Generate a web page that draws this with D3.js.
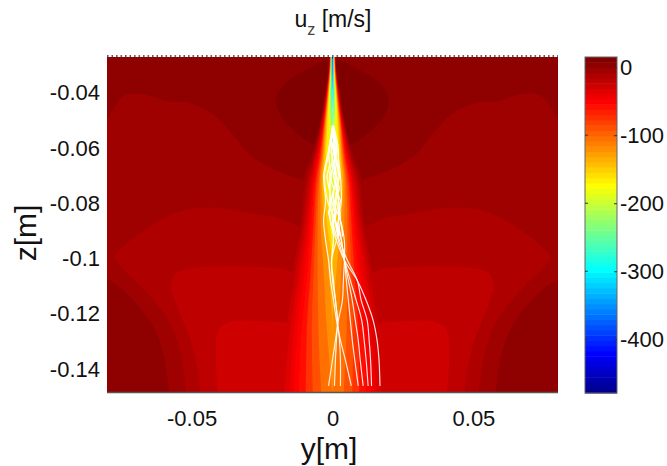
<!DOCTYPE html>
<html>

<head>
    <title>u_z contour</title>
    <script src="https://d3js.org/d3.v7.min.js"></script>
    <style>
        body {
            margin: 0;
            background-color: white;
        }

        svg {
            display: block;
        }

        text {
            font-family: "Liberation Sans", sans-serif;
            fill: #111;
        }
    </style>
</head>

<body>
    <svg></svg>
    <script>
        // all lengths in mm, velocities in m/s
        const yTicks = [-0.05, 0, 0.05];
        const zTicks = [-0.04, -0.06, -0.08, -0.1, -0.12, -0.14];
        const colorTicks = [0, -100, -200, -300, -400];

        // background contour bands, right half only [y, z], picture is mirrored about y=0
        const baseValue = 3;
        const blobValue = 12;
        const blobEdge = [[0, -27.7], [8.8, -31.3], [15.8, -35.7], [20, -42.2], [17.9, -49], [12.3, -54.8], [8.1, -58], [0, -60.9]];
        const bandAValue = -5;
        const bandAEdge = [[0, -73.9], [10.9, -71.4], [21.4, -67.4], [29.8, -62], [35.5, -54.8], [42.5, -47.6], [50.9, -43.6], [59, -42.9], [67, -40.4], [74, -41.1], [79.6, -49], [85, -57.3], [90, -160]];
        const bandBValue = -12;
        const bandBEdge = [[0, -90.5], [11.6, -88.4], [19.3, -85.1], [23.9, -84.4], [30.9, -83], [44.9, -81.5], [56.5, -83.7], [67, -89.8], [73, -94.5], [77.2, -99.2], [75.5, -102.5], [68.4, -109.7], [61.4, -117.6], [56.5, -125.9], [53.7, -135.7], [51.9, -148.3], [51, -155]];
        const bandCValue = -20;
        const bandCEdge = [[0, -106.1], [13.3, -105], [18.6, -103.5], [23.9, -103.2], [35.5, -102.8], [49.5, -103.5], [55.5, -105.3], [57.2, -109.7], [55.5, -116.2], [52.7, -123.4], [49.5, -132.1], [46.7, -148.3], [46, -155]];
        const bandDValue = -28;
        const bandDEdge = [[0, -124.1], [17.9, -123], [23.9, -122.7], [35.5, -122.7], [39.7, -124.8], [41.1, -128.4], [41.4, -135.7], [40.7, -148.3], [40.5, -155]];
        const cornerValue = 3;
        const cornerEdge = [[86, -104], [79.7, -107.5], [73, -112.6], [67, -119.4], [62.5, -127], [59.7, -135.7], [57.9, -148.3], [57, -156], [90, -156]];

        // central jet: half width of each velocity level at each height
        const jetZ = [-27, -32.1, -39.3, -46.5, -53.7, -62.7, -71.8, -86.2, -104.3, -125.9, -148.3];
        const jetLevels = [-5, -12, -20, -28, -35, -43, -50, -58, -77, -92, -108, -123, -139, -154, -170, -190, -220, -250, -290, -340, -400, -450];
        const jetHalfWidth = [
            [1.05, 1.4, 2.46, 3.5, 4.9, 7.4, 10.5, 11.6, 12.6, 13.3, 14],
            [0.98, 1.33, 2.28, 3.33, 4.56, 6.67, 9.48, 11.2, 13.3, 14, 14.7],
            [0.95, 1.26, 2.18, 3.16, 4.39, 6.32, 8.78, 10.5, 14, 15.4, 16.1],
            [0.91, 1.23, 2.11, 3.05, 4.21, 5.97, 8.07, 9.83, 13, 16.5, 18.6],
            [0.88, 1.19, 2.04, 2.95, 4.04, 5.62, 7.37, 9.13, 11.9, 15.1, 17.2],
            [0.84, 1.16, 1.97, 2.84, 3.86, 5.27, 7.02, 8.42, 10.9, 13.7, 15.4],
            [0.81, 1.12, 1.9, 2.74, 3.69, 5.02, 6.67, 8.07, 9.83, 12.3, 13.7],
            [0.77, 1.09, 1.83, 2.63, 3.51, 4.74, 6.32, 7.37, 8.78, 10.9, 11.9],
            [0.74, 1.05, 1.76, 2.53, 3.33, 4.39, 5.79, 6.67, 7.72, 9.13, 9.48],
            [0.7, 0.98, 1.65, 2.39, 3.16, 4.04, 5.27, 5.97, 6.67, 7.37, 7.02],
            [0.67, 0.91, 1.54, 2.25, 2.98, 3.69, 4.74, 5.27, 5.27, 5, 4],
            [0.63, 0.84, 1.44, 2.11, 2.81, 3.4, 4.3, 4.21, 3.16, 2, 0],
            [0.6, 0.77, 1.33, 1.97, 2.5, 3.1, 3.8, 3.1, 1.4, 0, 0],
            [0.56, 0.7, 1.23, 1.76, 2.25, 2.8, 3.2, 2.1, 0, 0, 0],
            [0.53, 0.63, 1.12, 1.58, 1.9, 2.3, 2.6, 1, 0, 0, 0],
            [0.49, 0.56, 0.98, 1.33, 1.2, 1.2, 0.9, 0, 0, 0, 0],
            [0.42, 0.49, 0.81, 0.88, 0.3, 0, 0, 0, 0, 0, 0],
            [0.39, 0.42, 0.6, 0.35, 0, 0, 0, 0, 0, 0, 0],
            [0.32, 0.35, 0.35, 0, 0, 0, 0, 0, 0, 0, 0],
            [0.25, 0.25, 0.11, 0, 0, 0, 0, 0, 0, 0, 0],
            [0.18, 0.14, 0, 0, 0, 0, 0, 0, 0, 0, 0],
            [0.11, 0, 0, 0, 0, 0, 0, 0, 0, 0, 0]
        ];

        // droplet paths, y read at each trajZ
        const coreZ = [-27.5, -38, -46, -52];
        const coreY = [0, 0, 0.1, 0.3];
        const trajZ = [-51.9, -60.9, -70, -79, -86.2, -93.4, -100.6, -107.9, -115.1, -122.3, -129.5, -136.7, -146.1];
        const trajY = [
            [0.35, 1.4, -0.35, -1.05, -0.7, 1.4, 4.21, 8.78, 11.93, 14.39, 15.8, 16.5, 16.85],
            [0, -1.05, -2.81, -1.76, 0.7, 2.46, 5.27, 8.78, 10.18, 12.29, 12.99, 13.5, 13.86],
            [0.35, 1.05, 2.11, 1.05, 1.05, 2.11, 4.21, 6.32, 8.42, 10.35, 11.23, 11.93, 12.64],
            [0, -0.35, 0.35, 2.11, 1.05, 3.16, 4.21, 5.62, 7.02, 8.07, 9.13, 9.83, 10.88],
            [0.35, 1.76, 2.81, 3.16, 2.11, 3.16, 4.21, 4.91, 5.62, 6.32, 7.02, 7.9, 9.13],
            [0, -1.4, -3.16, -2.46, -3.16, -2.46, -1.4, -0.7, 0.35, 1.4, 2.81, 4.56, 6.67],
            [0.35, 0.35, -1.05, -0.7, 0, 0.35, -0.35, 0, 1.05, 1.76, 2.46, 2.81, 2.81],
            [0, 0.7, 1.05, 2.11, 2.81, 1.4, -0.35, 0.35, 1.05, 1.76, 1.4, 1.05, 0.7],
            [0.35, 2.11, 1.4, 0.35, 2.81, 4.21, 4.21, 3.86, 3.51, 2.11, 1.05, 0, -1.4]
        ];
        // the tangled part of the bundle just below the nozzle
        const bundleZ = [-53, -57.3, -61.7, -66, -70.3, -74.7, -79, -83.3, -87.7, -92];
        const bundleY = [
            [0, 0.4, -0.5, 0.6, -1, 0.5, -0.4, 1, 0.2, 1.4],
            [0.3, -0.4, 0.7, 1.4, 0.4, 1.6, 0.8, 0, 1.5, 2.2],
            [-0.3, 0.5, 1.2, 0.2, 1.5, 2.4, 1.2, 2.6, 1.8, 3],
            [0.2, -0.8, -1.5, -1, -2, -1.2, -0.3, -1.4, -0.5, 0.5],
            [0, 1, 0.3, 2, 2.6, 1.2, 2.8, 2, 3.2, 3.6]
        ];

        const width = 667, height = 466;
        const plot = { left: 107, right: 558, top: 57, bottom: 392 };
        const bar = { left: 585, right: 617, top: 57, bottom: 393 };

        const svg = d3.select("svg")
            .attr("width", width)
            .attr("height", height);

        const xScale = d3.scaleLinear().domain([-0.08, 0.08]).range([plot.left, plot.right]);
        const zScale = d3.scaleLinear().domain([-0.027, -0.1483]).range([plot.top, plot.bottom]);
        const barScale = d3.scaleLinear().domain([15, -479]).range([bar.top, bar.bottom]);

        // matlab jet(64)
        function jetColor(i) {
            const x = (i + 1) / 64;
            const c = v => Math.round(255 * Math.max(0, Math.min(1, v)));
            return d3.rgb(c(Math.min(4 * x - 1.5, -4 * x + 4.5)), c(Math.min(4 * x - 0.5, -4 * x + 3.5)), c(Math.min(4 * x + 0.5, -4 * x + 2.5))).formatHex();
        }
        const color = d3.scaleQuantize().domain([-479, 15]).range(d3.range(64).map(jetColor));

        svg.append("defs").append("clipPath").attr("id", "plotClip")
            .append("rect")
            .attr("x", plot.left).attr("y", plot.top)
            .attr("width", plot.right - plot.left).attr("height", plot.bottom - plot.top);
        svg.select("defs").append("filter").attr("id", "soft")
            .attr("x", 0).attr("y", 0).attr("width", 1).attr("height", 1)
            .append("feGaussianBlur").attr("stdDeviation", 0.45);

        const field = svg.append("g").attr("clip-path", "url(#plotClip)");
        const inner = field.append("g").attr("filter", "url(#soft)");

        inner.append("rect")
            .attr("x", plot.left - 5).attr("y", plot.top - 5)
            .attr("width", plot.right - plot.left + 10).attr("height", plot.bottom - plot.top + 10)
            .attr("fill", color(baseValue));

        const edgeLine = d3.line()
            .x(d => xScale(d[0] / 1000))
            .y(d => zScale(d[1] / 1000))
            .curve(d3.curveCatmullRom);

        function mirrored(edge) {
            const left = edge.slice(1).reverse().map(d => [-d[0], d[1]]);
            return left.concat(edge);
        }

        const bands = [
            [blobValue, mirrored(blobEdge)],
            [bandAValue, mirrored(bandAEdge)],
            [cornerValue, cornerEdge],
            [cornerValue, cornerEdge.map(d => [-d[0], d[1]])],
            [bandBValue, mirrored(bandBEdge)],
            [bandCValue, mirrored(bandCEdge)],
            [bandDValue, mirrored(bandDEdge)]
        ];
        inner.selectAll("path.band")
            .data(bands)
            .enter()
            .append("path")
            .attr("class", "band")
            .attr("d", d => edgeLine(d[1]) + "Z")
            .attr("fill", d => color(d[0]));

        const jetArea = d3.area()
            .y(d => zScale(d[0] / 1000))
            .x0(d => xScale(-d[1] / 1000))
            .x1(d => xScale(d[1] / 1000))
            .curve(d3.curveMonotoneY);

        inner.selectAll("path.jet")
            .data(jetLevels)
            .enter()
            .append("path")
            .attr("class", "jet")
            .attr("d", (d, i) => jetArea(jetZ.map((z, j) => [z, jetHalfWidth[i][j]])))
            .attr("fill", d => color(d));

        const trajLine = d3.line()
            .x(d => xScale(d[0] / 1000))
            .y(d => zScale(d[1] / 1000))
            .curve(d3.curveCatmullRom);
        const bundleLine = d3.line()
            .x(d => xScale(d[0] / 1000))
            .y(d => zScale(d[1] / 1000));

        field.append("path")
            .attr("d", trajLine(coreY.map((y, j) => [y, coreZ[j]])))
            .attr("fill", "none")
            .attr("stroke", "white")
            .attr("stroke-opacity", 0.55)
            .attr("stroke-width", 0.7);

        field.selectAll("path.bundle")
            .data(bundleY)
            .enter()
            .append("path")
            .attr("class", "bundle")
            .attr("d", d => bundleLine(d.map((y, j) => [y, bundleZ[j]])))
            .attr("fill", "none")
            .attr("stroke", "white")
            .attr("stroke-width", 1.3);

        field.selectAll("path.traj")
            .data(trajY)
            .enter()
            .append("path")
            .attr("class", "traj")
            .attr("d", d => trajLine(d.map((y, j) => [y, trajZ[j]])))
            .attr("fill", "none")
            .attr("stroke", "white")
            .attr("stroke-opacity", 0.9)
            .attr("stroke-width", 1.15);

        // frame: dotted along the top, solid along the bottom
        svg.append("line")
            .attr("x1", plot.left).attr("x2", plot.right)
            .attr("y1", plot.top - 1).attr("y2", plot.top - 1)
            .attr("stroke", "#333").attr("stroke-width", 1.4)
            .attr("stroke-dasharray", "1.6 2.9");
        svg.append("line")
            .attr("x1", plot.left).attr("x2", plot.right)
            .attr("y1", plot.bottom + 0.5).attr("y2", plot.bottom + 0.5)
            .attr("stroke", "#555").attr("stroke-width", 1.6);

        const xAxis = svg.append("g")
            .attr("transform", "translate(0," + plot.bottom + ")")
            .call(d3.axisBottom(xScale).tickValues(yTicks).tickSize(0).tickPadding(18).tickFormat(d => String(d)));
        const zAxis = svg.append("g")
            .attr("transform", "translate(" + plot.left + ",0)")
            .call(d3.axisLeft(zScale).tickValues(zTicks).tickSize(0).tickPadding(7).tickFormat(d => String(d)));
        xAxis.select(".domain").remove();
        zAxis.select(".domain").remove();
        svg.selectAll(".tick text")
            .style("font-family", '"Liberation Sans", sans-serif')
            .style("font-size", "22px")
            .attr("fill", "#111");

        // colorbar
        const barGroup = svg.append("g");
        barGroup.selectAll("rect.level")
            .data(color.range())
            .enter()
            .append("rect")
            .attr("class", "level")
            .attr("x", bar.left)
            .attr("width", bar.right - bar.left)
            .attr("y", d => barScale(color.invertExtent(d)[1]))
            .attr("height", d => barScale(color.invertExtent(d)[0]) - barScale(color.invertExtent(d)[1]) + 0.5)
            .attr("fill", d => d);
        barGroup.append("rect")
            .attr("x", bar.left).attr("y", bar.top)
            .attr("width", bar.right - bar.left).attr("height", bar.bottom - bar.top)
            .attr("fill", "none").attr("stroke", "#666").attr("stroke-width", 1);

        const barAxis = svg.append("g")
            .attr("transform", "translate(" + bar.right + ",0)")
            .call(d3.axisRight(barScale).tickValues(colorTicks).tickSize(-3).tickPadding(3).tickFormat(d => String(d)));
        barAxis.select(".domain").remove();
        barAxis.selectAll(".tick line").attr("stroke", "#333");
        barAxis.selectAll(".tick text")
            .style("font-family", '"Liberation Sans", sans-serif')
            .style("font-size", "22px")
            .attr("fill", "#111");
        barGroup.selectAll("line.tickLeft")
            .data(colorTicks)
            .enter()
            .append("line")
            .attr("class", "tickLeft")
            .attr("x1", bar.left).attr("x2", bar.left + 3)
            .attr("y1", d => barScale(d)).attr("y2", d => barScale(d))
            .attr("stroke", "#333");

        // titles
        const title = svg.append("text")
            .attr("x", 333).attr("y", 27)
            .attr("text-anchor", "middle")
            .style("font-size", "23px");
        title.append("tspan").text("u");
        title.append("tspan").attr("dy", 8).attr("fill", "#444").style("font-size", "16px").text("z");
        title.append("tspan").attr("dy", -8).text(" [m/s]");

        svg.append("text")
            .attr("x", 329).attr("y", 459)
            .attr("text-anchor", "middle")
            .style("font-size", "30px")
            .text("y[m]");

        svg.append("text")
            .attr("transform", "translate(36,233) rotate(-90)")
            .attr("text-anchor", "middle")
            .style("font-size", "30px")
            .text("z[m]");
    </script>
</body>

</html>
